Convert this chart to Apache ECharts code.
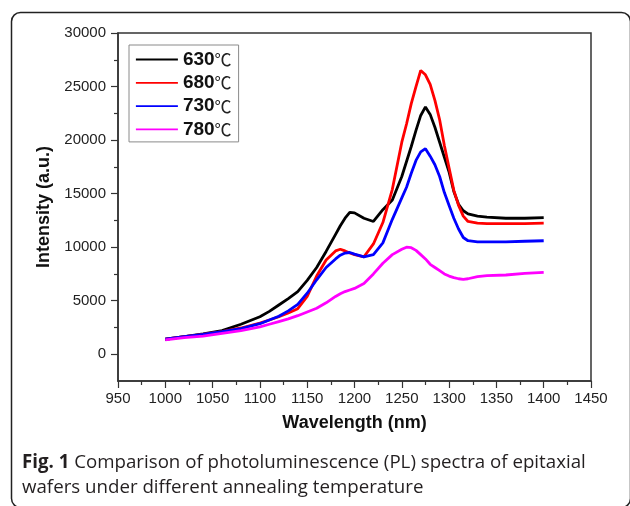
<!DOCTYPE html>
<html>
<head>
<meta charset="utf-8">
<script src="https://cdn.jsdelivr.net/npm/echarts@6/dist/echarts.min.js"></script>
<style>
html,body{margin:0;padding:0;background:#fff;}
#chart{width:630px;height:506px;}
</style>
</head>
<body>
<div id="chart"></div>
<script>
const wavelength = [1000,1020,1040,1060,1080,1100,1110,1120,1130,1140,1150,1160,1170,1180,1185,1190,1195,1200,1210,1220,1230,1240,1250,1255,1260,1265,1270,1275,1280,1285,1290,1295,1300,1305,1310,1315,1320,1330,1340,1360,1380,1400];
const seriesNames = ['630', '680', '730', '780'];
const pl630 = [1400,1650,1900,2200,2800,3500,4000,4600,5200,5850,6900,8100,9600,11200,12000,12700,13250,13200,12700,12400,13500,14400,16600,18000,19400,20900,22300,23100,22400,21200,19800,18400,17000,15200,14000,13400,13100,12900,12800,12700,12700,12750];
const pl680 = [1400,1650,1850,2100,2450,2900,3200,3500,3850,4250,5400,7300,8800,9650,9800,9650,9450,9300,9100,10300,12300,15400,19800,21500,23400,25000,26500,26100,25200,23700,21900,19500,17400,15300,13900,12900,12400,12250,12200,12200,12200,12250];
const pl730 = [1400,1650,1850,2100,2400,2850,3200,3550,4050,4650,5700,6950,8100,8900,9250,9450,9500,9350,9100,9300,10400,12600,14600,15600,16900,18100,18900,19200,18500,17700,16600,15100,13900,12700,11700,10900,10600,10500,10500,10500,10550,10600];
const pl780 = [1350,1550,1700,1950,2200,2550,2800,3050,3300,3600,3950,4300,4800,5400,5650,5850,6000,6150,6600,7500,8500,9300,9800,10000,9950,9700,9300,8900,8400,8100,7800,7500,7300,7150,7050,7000,7050,7250,7350,7400,7550,7650];
const yLabelValues = [0,5000,10000,15000,20000,25000,30000];
const yMinorValues = [2500,7500,12500,17500,22500,27500];
const xTitle = 'Wavelength (nm)';
const yTitle = 'Intensity (a.u.)';
const captionBold = 'Fig. 1';
const captionLine1 = ' Comparison of photoluminescence (PL) spectra of epitaxial';
const captionLine2 = 'wafers under different annealing temperature';

const colors = ['#000000', '#ff0000', '#0000ff', '#ff00ff'];
const allData = [pl630, pl680, pl730, pl780];
const axisColor = '#333';
const labelFont = '"Liberation Sans", Arial, sans-serif';

const chart = echarts.init(document.getElementById('chart'), null, {renderer: 'canvas'});
const series = allData.map((vals, i) => ({
  name: seriesNames[i],
  type: 'line',
  data: wavelength.map((w, j) => [w, vals[j]]),
  symbol: 'none',
  showSymbol: false,
  smooth: false,
  lineStyle: {color: colors[i], width: 2.8},
  itemStyle: {color: colors[i]},
  animation: false
}));

chart.setOption({
  animation: false,
  grid: {left: 118, top: 33, width: 473, height: 348, show: true, borderColor: axisColor, borderWidth: 1.5, backgroundColor: 'transparent'},
  legend: {
    orient: 'vertical',
    left: 129, top: 45,
    padding: [5, 7, 3, 6],
    itemWidth: 42, itemHeight: 14, itemGap: 4.3,
    borderColor: '#8a8a8a', borderWidth: 1,
    itemStyle: {opacity: 0},
    lineStyle: {width: 1.8, opacity: 1},
    data: seriesNames,
    formatter: n => '{b|' + n + '}{c|℃}',
    textStyle: {
      rich: {
        b: {fontFamily: labelFont, fontWeight: 'bold', fontSize: 19, color: '#111', lineHeight: 18},
        c: {fontFamily: '"Noto Sans CJK SC", sans-serif', fontSize: 17, color: '#222', lineHeight: 18}
      }
    }
  },
  xAxis: {
    type: 'value', min: 950, max: 1450, interval: 50,
    name: xTitle, nameLocation: 'middle', nameGap: 33,
    nameTextStyle: {fontFamily: labelFont, fontWeight: 'bold', fontSize: 18, color: '#111'},
    axisLine: {show: true, onZero: false, lineStyle: {color: axisColor, width: 1.5}},
    axisTick: {show: true, inside: false, length: 7, lineStyle: {color: axisColor, width: 1.2}},
    minorTick: {show: true, splitNumber: 2, length: 4, lineStyle: {color: axisColor, width: 1.2}},
    axisLabel: {fontFamily: labelFont, fontSize: 15, color: '#222', margin: 10, formatter: v => String(v)},
    splitLine: {show: false}, minorSplitLine: {show: false}
  },
  yAxis: [{
    type: 'value', min: -2500, max: 30000, interval: 2500, position: 'left',
    name: yTitle, nameLocation: 'middle', nameGap: 65, nameRotate: 90,
    nameTextStyle: {fontFamily: labelFont, fontWeight: 'bold', fontSize: 18, color: '#111'},
    axisLine: {show: true, onZero: false, lineStyle: {color: axisColor, width: 1.5}},
    axisTick: {show: true, inside: false, length: 7, customValues: yLabelValues, lineStyle: {color: axisColor, width: 1.2}},
    axisLabel: {fontFamily: labelFont, fontSize: 15, color: '#222', margin: 12, customValues: yLabelValues, formatter: v => String(v)},
    splitLine: {show: false}
  }, {
    type: 'value', min: -2500, max: 30000, interval: 2500, position: 'left',
    axisLine: {show: false},
    axisTick: {show: true, inside: false, length: 4, customValues: yMinorValues, lineStyle: {color: axisColor, width: 1.2}},
    axisLabel: {show: false},
    splitLine: {show: false}
  }],
  series: series,
  graphic: [
    {type: 'rect', left: 9, top: 10, shape: {x: 0, y: 0, width: 619, height: 495, r: 9}, style: {fill: 'none', stroke: '#222', lineWidth: 1.5}, silent: true, z: -1},
    {type: 'text', left: 22, top: 453, style: {
      text: '{b|' + captionBold + '}{n|' + captionLine1 + '}',
      rich: {
        b: {fontFamily: '"Open Sans", sans-serif', fontWeight: 'bold', fontSize: 18.7, fill: '#231f20'},
        n: {fontFamily: '"Open Sans", sans-serif', fontSize: 18.7, fill: '#231f20'}
      }
    }},
    {type: 'text', left: 22, top: 478, style: {text: captionLine2, font: '18.7px "Open Sans", sans-serif', fill: '#231f20'}}
  ]
});
</script>
</body>
</html>
